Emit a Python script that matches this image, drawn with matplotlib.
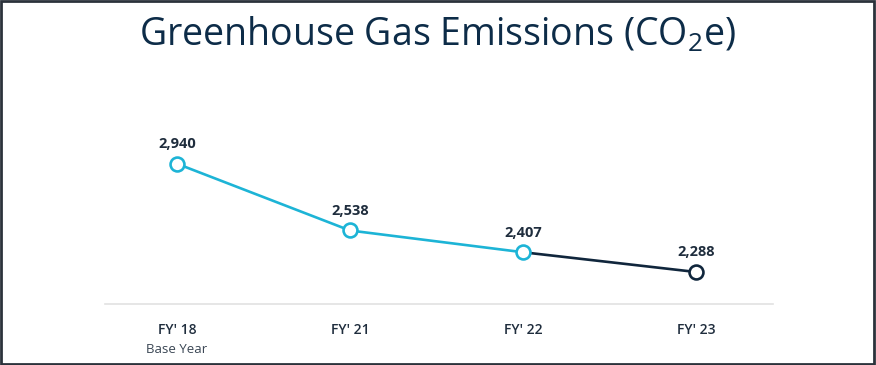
import matplotlib
matplotlib.use("Agg")
import matplotlib.pyplot as plt
from matplotlib.patches import Rectangle

# values
years = ["FY' 18", "FY' 21", "FY' 22", "FY' 23"]
sublabels = ["Base Year", "", "", ""]
emissions = [2940, 2538, 2407, 2288]

cyan = "#1db4d6"
navy = "#10263c"
textDark = "#1f2d3d"

plt.rcParams['font.family'] = ['Open Sans', 'DejaVu Sans']
plt.rcParams['mathtext.fontset'] = 'custom'
plt.rcParams['mathtext.rm'] = 'Open Sans'
plt.rcParams['mathtext.it'] = 'Open Sans'

fig = plt.figure(figsize=(8.76, 3.65), dpi=100)
ax = fig.add_axes([0.1199, 0.167, 0.7625, 0.56])

xs = list(range(len(years)))

# cyan part up to FY'22, dark part for the latest year
ax.plot(xs[:3], emissions[:3], color=cyan, lw=1.9, zorder=2)
ax.plot(xs[2:], emissions[2:], color=navy, lw=1.9, zorder=2)
ax.plot(xs[:3], emissions[:3], 'o', ms=10, mfc='white', mec=cyan, mew=1.9, zorder=3)
ax.plot(xs[3:], emissions[3:], 'o', ms=10, mfc='white', mec=navy, mew=1.9, zorder=3)

for x, v in zip(xs, emissions):
    ax.annotate(f"{v:,}", (x, v), xytext=(0, 9), textcoords='offset points',
                ha='center', va='bottom', fontsize=10.5, fontweight='bold',
                color=textDark)

ax.set_xlim(-0.416, 3.445)
ax.set_ylim(2095, 3326)
ax.set_yticks([])
ax.set_xticks(xs)
ax.set_xticklabels(years, fontsize=10, fontweight='semibold', color=textDark)
ax.tick_params(axis='x', length=0, pad=14)
for x, s in zip(xs, sublabels):
    if s:
        ax.annotate(s, (x, 0), xycoords=('data', 'axes fraction'),
                    xytext=(0, -28), textcoords='offset points',
                    ha='center', va='top', fontsize=9.5, color="#3a4654")

for side in ['top', 'left', 'right']:
    ax.spines[side].set_visible(False)
ax.spines['bottom'].set_color('#e2e2e2')
ax.spines['bottom'].set_linewidth(1.2)

fig.text(0.5, 0.905, "Greenhouse Gas Emissions (CO$_2$e)", ha='center', va='center',
         fontsize=27, color="#0d2c48")

fig.patches.append(Rectangle((0.001, 0.002), 0.997, 0.995, transform=fig.transFigure,
                             fill=False, edgecolor='#2b323b', lw=2))

fig.savefig("out.png", dpi=100)
